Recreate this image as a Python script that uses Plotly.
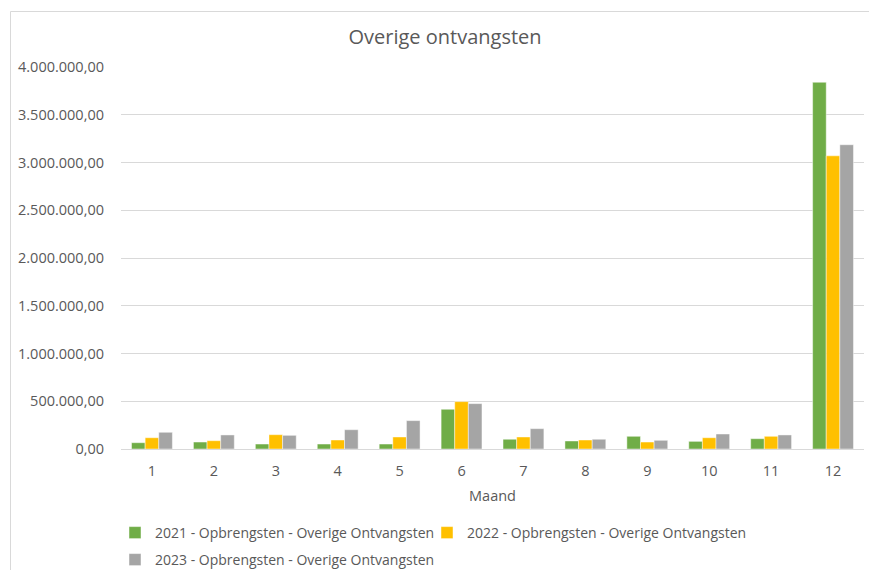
import plotly.graph_objects as go

months = [str(m) for m in range(1, 13)]
v2021 = [66000, 73000, 52000, 52000, 52000, 416000, 102000, 84000, 133000, 80000, 108000, 3840000]
v2022 = [118000, 87000, 150000, 94000, 126000, 496000, 126000, 94000, 73000, 118000, 133000, 3070000]
v2023 = [175000, 147000, 143000, 202000, 297000, 475000, 213000, 102000, 91000, 157000, 147000, 3186000]
series_names = ["2021 - Opbrengsten - Overige Ontvangsten",
                "2022 - Opbrengsten - Overige Ontvangsten",
                "2023 - Opbrengsten - Overige Ontvangsten"]
colors = ["#70AD47", "#FFC000", "#A5A5A5"]
tick_vals = [0, 500000, 1000000, 1500000, 2000000, 2500000, 3000000, 3500000, 4000000]
tick_text = ["0,00", "500.000,00", "1.000.000,00", "1.500.000,00", "2.000.000,00",
             "2.500.000,00", "3.000.000,00", "3.500.000,00", "4.000.000,00"]

W, H = 869, 570
L, R, T, B = 121, 5, 67, 121
pw = W - L - R
ph = H - T - B

def px_x(p):
    return (p - L) / pw

def cy(p):
    return 1 - p / H

FONT = "Open Sans"
TXT = "#595959"

fig = go.Figure()
legend_ids = ["legend", "legend2", "legend3"]
for name, vals, col, lg in zip(series_names, [v2021, v2022, v2023], colors, legend_ids):
    fig.add_trace(go.Bar(x=months, y=vals, name=name, marker_color=col,
                         marker_line=dict(width=1, color="rgba(255,255,255,0.45)"),
                         legend=lg, showlegend=True))

leg_common = dict(orientation="h", xanchor="left", yanchor="middle", yref="container",
                  font=dict(size=14, color=TXT), bgcolor="rgba(0,0,0,0)", visible=True)

fig.update_layout(
    width=W, height=H,
    margin=dict(l=L, r=R, t=T, b=B),
    paper_bgcolor="white", plot_bgcolor="white",
    barmode="group", bargap=0.34, bargroupgap=0,
    showlegend=True,
    font=dict(family=FONT, color=TXT, size=14),
    title=dict(text="Overige ontvangsten", x=445 / W, xanchor="center",
               y=1 - 37 / H, yanchor="middle",
               font=dict(family=FONT, size=20, color=TXT)),
    xaxis=dict(type="category", showgrid=False, showline=True, linecolor="#D9D9D9",
               linewidth=1, ticks="", tickfont=dict(size=14.5, color=TXT),
               title=dict(text="Maand", font=dict(size=14.5, color=TXT), standoff=11),
               ticklabelstandoff=9),
    yaxis=dict(range=[0, 4000000], tickvals=tick_vals, ticktext=tick_text,
               showgrid=True, gridcolor="#D9D9D9", gridwidth=1, zeroline=False,
               showline=False, ticks="", tickfont=dict(size=14.5, color=TXT),
               ticklabelstandoff=16),
    legend=dict(x=px_x(115), y=cy(533), **leg_common),
    legend2=dict(x=px_x(427), y=cy(533), **leg_common),
    legend3=dict(x=px_x(115), y=cy(560), **leg_common),
    shapes=[dict(type="rect", xref="paper", yref="paper",
                 x0=px_x(10.5), x1=px_x(W + 20), y0=(H - B - (H + 20)) / ph,
                 y1=(H - B - 11.5) / ph,
                 line=dict(color="#D9D9D9", width=1), fillcolor="rgba(0,0,0,0)", layer="below")],
)

fig.write_html("out.html", config={"displayModeBar": False},
               post_script="document.body.style.margin='0';")
